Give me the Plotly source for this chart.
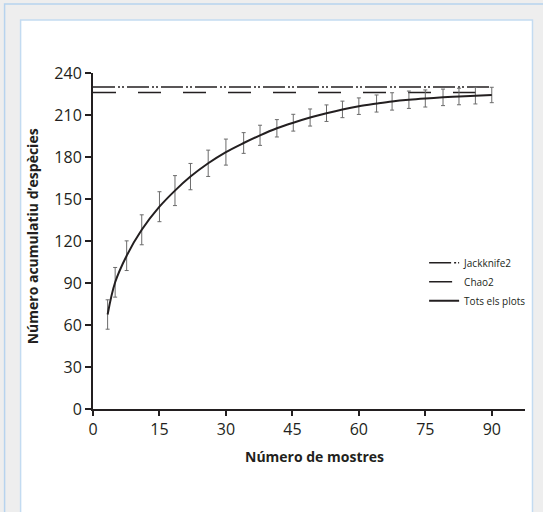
import plotly.graph_objects as go

# Data
samples = [3.3, 5, 7.6, 11, 15, 18.5, 22, 26, 30, 34, 37.7, 41.5, 45.2, 49, 52.7,
           56.3, 60, 64, 67.5, 71.3, 75, 79, 82.6, 86.3, 90]
species = [67.5, 90.5, 109.5, 128, 144.5, 156, 166, 175.5, 183.5, 190, 195.5,
           200.5, 204.5, 208.2, 211.3, 214, 216.3, 218.2, 219.7, 220.9, 221.8, 222.6,
           223.2, 223.8, 224.3]
errors = [10.5, 10.6, 10.6, 10.7, 10.7, 10.7, 9.4, 9.4, 9.3, 7.4, 7.2, 6.2, 6.0, 6.1,
          5.9, 5.9, 5.9, 6.1, 6.2, 6.2, 6.1, 5.9, 5.9, 5.9, 5.5]
estimator_x = [0, 90]
jackknife2 = [230, 230]
chao2 = [226, 226]
x_ticks = [0, 15, 30, 45, 60, 75, 90]
y_ticks = [0, 30, 60, 90, 120, 150, 180, 210, 240]

ink = "#231f20"
font_family = "Open Sans, Noto Sans, sans-serif"

W, H = 543, 512
L, R, T, B = 92.5, 18, 73, 102.5
pw, ph = W - L - R, H - T - B


def px_x(p):
    return (p - L) / pw


def px_y(p):
    return (H - B - p) / ph


fig = go.Figure()
fig.add_trace(go.Scatter(
    x=estimator_x, y=jackknife2, mode="lines", name="Jackknife2",
    line=dict(color=ink, width=1.5, dash="22px,3px,2px,2px,2px,3px"),
))
fig.add_trace(go.Scatter(
    x=estimator_x, y=chao2, mode="lines", name="Chao2",
    line=dict(color=ink, width=1.5, dash="23px,22px"),
))
fig.add_trace(go.Scatter(
    x=samples, y=species, mode="lines", name="Tots els plots",
    line=dict(color=ink, width=2, shape="spline"),
    error_y=dict(type="data", array=errors, visible=True, color="#6b6b6b",
                 thickness=1, width=2),
))

fig.update_layout(
    width=W, height=H, autosize=False,
    margin=dict(l=L, r=R, t=T, b=B, pad=0),
    paper_bgcolor="#eeeeee", plot_bgcolor="white",
    font=dict(family=font_family, color=ink, size=16),
    showlegend=True,
    legend=dict(x=px_x(424), y=px_y(282), xanchor="left", yanchor="middle",
                bgcolor="rgba(0,0,0,0)", font=dict(size=10, color=ink),
                tracegroupgap=0),
    shapes=[
        dict(type="rect", xref="paper", yref="paper", layer="below",
             x0=px_x(4), x1=px_x(560), y0=px_y(560), y1=px_y(4),
             line=dict(color="#b7d3ee", width=1.5), fillcolor="#eeeeee"),
        dict(type="rect", xref="paper", yref="paper", layer="below",
             x0=px_x(20), x1=px_x(532.5), y0=px_y(560), y1=px_y(20),
             line=dict(color="#c3dbf1", width=1.5), fillcolor="white"),
    ],
    annotations=[
        dict(text="<b>Número de mostres</b>", xref="paper", yref="paper",
             x=px_x(314), y=px_y(457), xanchor="center", yanchor="middle",
             showarrow=False, font=dict(size=14, color=ink)),
        dict(text="<b>Número acumulatiu d’espècies</b>", xref="paper", yref="paper",
             x=px_x(32), y=px_y(237), xanchor="center", yanchor="middle",
             textangle=-90, showarrow=False, font=dict(size=14, color=ink)),
    ],
)

fig.update_xaxes(
    range=[0, 97.5], tickvals=x_ticks, ticks="outside", ticklen=5, tickwidth=1.5,
    tickcolor=ink, showline=True, linewidth=2, linecolor=ink, showgrid=False,
    zeroline=False, tickfont=dict(size=16, color=ink),
)
fig.update_yaxes(
    range=[0, 240], tickvals=y_ticks, ticks="outside", ticklen=6, tickwidth=1.5,
    tickcolor=ink, showline=True, linewidth=2, linecolor=ink, showgrid=False,
    zeroline=False, tickfont=dict(size=16, color=ink),
)

fig.write_html("out.html", config={"displayModeBar": False},
               post_script="document.body.style.margin='0';document.body.style.overflow='hidden';")
